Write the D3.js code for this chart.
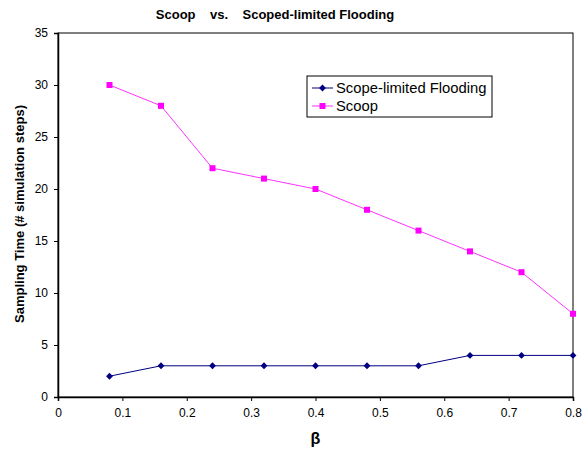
<!DOCTYPE html>
<html>
<head>
<meta charset="utf-8">
<script src="https://cdn.jsdelivr.net/npm/d3@7"></script>
<style>
  body { margin: 0; background: #fff; font-family: Arial, "Liberation Sans", sans-serif; }
</style>
</head>
<body>
<div id="chart"></div>
<script>
// data
const betaValues = [0.08, 0.16, 0.24, 0.32, 0.40, 0.48, 0.56, 0.64, 0.72, 0.80];
const scopeLimited = [2, 3, 3, 3, 3, 3, 3, 4, 4, 4];
const scoop = [30, 28, 22, 21, 20, 18, 16, 14, 12, 8];
const xTicks = [0, 0.1, 0.2, 0.3, 0.4, 0.5, 0.6, 0.7, 0.8];
const yTicks = [0, 5, 10, 15, 20, 25, 30, 35];

const W = 582, H = 450;
const margin = { top: 33, right: 9, bottom: 53, left: 58 };
const width = W - margin.left - margin.right;
const height = H - margin.top - margin.bottom;

const svg = d3.select('#chart').append('svg')
    .attr('width', W)
    .attr('height', H);

const g = svg.append('g')
    .attr('transform', `translate(${margin.left},${margin.top})`);

const x = d3.scaleLinear().domain([0, 0.8]).range([0, width]);
const y = d3.scaleLinear().domain([0, 35]).range([height, 0]);

// plot frame (top and right borders)
g.append('rect')
    .attr('width', width)
    .attr('height', height)
    .attr('fill', 'none')
    .attr('stroke', '#000')
    .attr('stroke-width', 1);

// axes
const xAxis = g.append('g')
    .attr('transform', `translate(0,${height})`)
    .call(d3.axisBottom(x).tickValues(xTicks).tickSize(4).tickPadding(7)
        .tickFormat(d => d === 0 ? '0' : d3.format('.1f')(d)));
const yAxis = g.append('g')
    .call(d3.axisLeft(y).tickValues(yTicks).tickSize(4).tickPadding(6));

[xAxis, yAxis].forEach(a => {
    a.select('.domain').attr('stroke', '#000').attr('stroke-width', 1.5);
    a.selectAll('text').style('font-size', '12px').style('font-family', 'Arial, "Liberation Sans", sans-serif').attr('fill', '#000');
});

// title
svg.append('text')
    .attr('x', 275)
    .attr('y', 19)
    .attr('text-anchor', 'middle')
    .style('font-size', '13px')
    .style('font-weight', 'bold')
    .attr('xml:space', 'preserve')
    .text('Scoop    vs.    Scoped-limited Flooding');

// axis labels
svg.append('text')
    .attr('transform', 'rotate(-90)')
    .attr('x', -214)
    .attr('y', 24)
    .attr('text-anchor', 'middle')
    .style('font-size', '13px')
    .style('font-weight', 'bold')
    .text('Sampling Time (# simulation steps)');

svg.append('text')
    .attr('x', margin.left + width / 2)
    .attr('y', 444)
    .attr('text-anchor', 'middle')
    .style('font-size', '16px')
    .style('font-weight', 'bold')
    .text('β');

// series
const series = [
    { name: 'Scope-limited Flooding', values: scopeLimited, color: '#000080', line: '#000080', marker: 'diamond' },
    { name: 'Scoop', values: scoop, color: '#ff00ff', line: '#ff33ff', marker: 'square' }
];

const line = d3.line()
    .x(d => x(d[0]))
    .y(d => y(d[1]));

function drawMarker(sel, type, color) {
    if (type === 'diamond') {
        sel.append('path')
            .attr('d', d3.symbol(d3.symbolDiamond2, 30)())
            .attr('fill', color);
    } else {
        sel.append('rect')
            .attr('x', -3).attr('y', -3)
            .attr('width', 6).attr('height', 6)
            .attr('fill', color);
    }
}

series.forEach(s => {
    const pts = betaValues.map((b, i) => [b, s.values[i]]);
    g.append('path')
        .datum(pts)
        .attr('fill', 'none')
        .attr('stroke', s.line)
        .attr('stroke-width', 1)
        .attr('d', line);
    g.selectAll(null)
        .data(pts)
        .enter()
        .append('g')
        .attr('transform', d => `translate(${x(d[0])},${y(d[1])})`)
        .each(function () { drawMarker(d3.select(this), s.marker, s.color); });
});

// legend
const legend = svg.append('g').attr('transform', 'translate(307,76)');
legend.append('rect')
    .attr('width', 185)
    .attr('height', 41)
    .attr('fill', '#fff')
    .attr('stroke', '#000')
    .attr('stroke-width', 1);

series.forEach((s, i) => {
    const row = legend.append('g').attr('transform', `translate(0,${12 + i * 18})`);
    row.append('line')
        .attr('x1', 5).attr('x2', 26)
        .attr('stroke', s.line)
        .attr('stroke-width', 1);
    const m = row.append('g').attr('transform', 'translate(15.5,0)');
    drawMarker(m, s.marker, s.color);
    row.append('text')
        .attr('x', 29)
        .attr('y', 5)
        .style('font-size', '14.8px')
        .text(s.name);
});
</script>
</body>
</html>
